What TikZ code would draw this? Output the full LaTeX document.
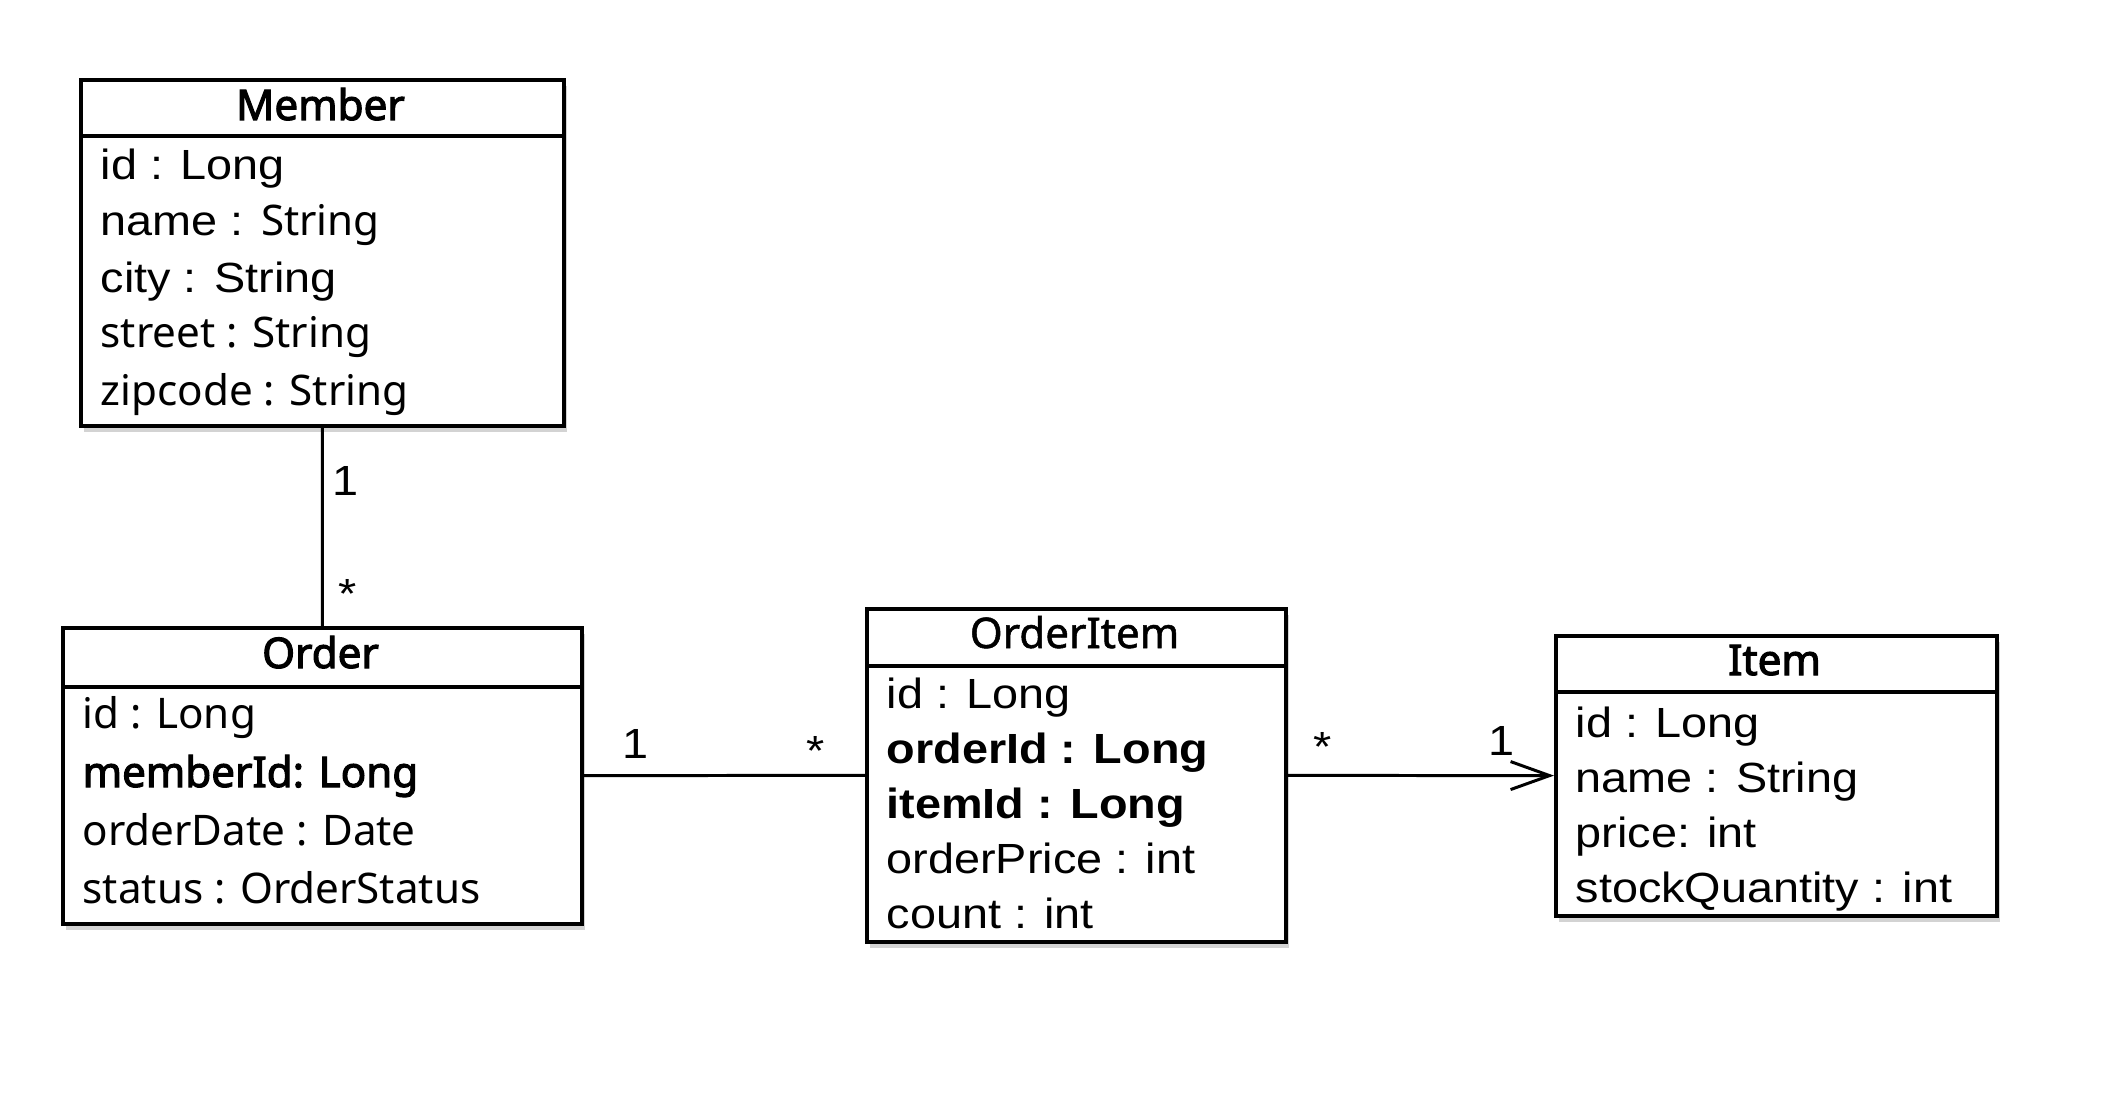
\documentclass[tikz,border=0pt]{standalone}
\usepackage{fontspec}
\setmainfont{Liberation Sans}[FakeStretch=1.11]
\newfontfamily\nanum{Noto Sans}
\newfontfamily\nanummid{Noto Sans}[FakeBold=1.2]
\newfontfamily\nanumbf{Noto Sans}[FakeBold=2.6]
\usetikzlibrary{arrows.meta,shadows}
\tikzset{
  cls/.style={draw, line width=1pt, fill=white, inner sep=0pt, anchor=north west,
    drop shadow={shadow xshift=0.3mm, shadow yshift=-0.6mm, opacity=0.35}},
  attr/.style={anchor=base west, inner sep=0pt},
  ttl/.style={anchor=base, inner sep=0pt},
  mult/.style={anchor=base, inner sep=0pt},
  assoc/.style={line width=0.85pt}
}
\begin{document}
\begin{tikzpicture}[x=0.1mm, y=-0.1mm, every node/.style={font=\fontsize{12}{14}\selectfont}]
  \useasboundingbox (0,0) rectangle (2108,1096);
  \foreach \n/\x/\y/\w/\h/\d in {member/79/78/48.3/34.6/5.8, order/61/626/51.9/29.6/6.1,
      orderitem/865/607/41.9/33.3/5.9, item/1554/634/44.1/28/5.8} {
    \node[cls, minimum width=\w mm, minimum height=\h mm] (\n) at (\x,\y) {};
    \draw[line width=1pt] ([yshift=-\d mm]\n.north west) -- ([yshift=-\d mm]\n.north east);
  }
  \foreach \n/\x/\y/\t in {member/320.5/120/{\nanumbf Member}, order/320.5/668/{\nanumbf Order},
      orderitem/1074.5/648/{\nanummid OrderItem}, item/1774.5/675/{\nanumbf Item}}
    \node[ttl] (\n-title) at (\x,\y) {\t};
  \foreach \y/\t [count=\i] in {180/{id : Long}, 235/{name : {\nanum String}}, 293/{city : String},
      347/{\nanum street : String}, 405/{\nanum zipcode : String}}
    \node[attr] (member-\i) at (100,\y) {\t};
  \foreach \y/\t [count=\i] in {728/{\nanum id : Long}, 787/{\nanumbf memberId: Long},
      845/{\nanum orderDate : Date}, 903/{\nanum status : OrderStatus}}
    \node[attr] (order-\i) at (82,\y) {\t};
  \foreach \y/\t [count=\i] in {708/{id : Long}, 763/{\bfseries orderId : Long}, 818/{\bfseries itemId : Long},
      873/{orderPrice : int}, 928/{count : int}}
    \node[attr] (orderitem-\i) at (886,\y) {\t};
  \foreach \y/\t [count=\i] in {737/{id : Long}, 792/{name : String}, 847/{price: int}, 902/{stockQuantity : int}}
    \node[attr] (item-\i) at (1575,\y) {\t};
  \draw[assoc] (member) -- (order);
  \draw[assoc] (order) -- (orderitem);
  \draw[assoc, -{Straight Barb[length=3.9mm, width=2.8mm]}] (orderitem) -- (item);
  \foreach \x/\y/\t [count=\i] in {345.5/495/1, 347.5/608/*, 635.5/758/1, 816/765/*, 1322.5/761/*, 1501.5/755/1}
    \node[mult] (mult-\i) at (\x,\y) {\t};
\end{tikzpicture}
\end{document}
